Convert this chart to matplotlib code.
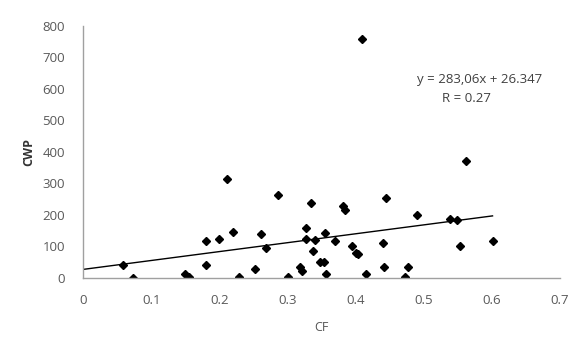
import matplotlib
matplotlib.use("Agg")
import matplotlib.pyplot as plt
import numpy as np

cf = [0.059, 0.073, 0.150, 0.155, 0.180, 0.181, 0.199, 0.212, 0.220, 0.229,
      0.253, 0.261, 0.269, 0.286, 0.301, 0.318, 0.321, 0.327, 0.327, 0.335,
      0.338, 0.340, 0.348, 0.354, 0.355, 0.357, 0.370, 0.381, 0.385, 0.395,
      0.400, 0.403, 0.410, 0.416, 0.440, 0.442, 0.444, 0.472, 0.477, 0.490,
      0.538, 0.549, 0.553, 0.562, 0.601]
cwp = [40, 0, 11, 3, 117, 40, 122, 313, 145, 3,
       28, 138, 95, 264, 3, 35, 21, 157, 124, 236,
       85, 121, 49, 49, 141, 11, 117, 229, 215, 101,
       77, 74, 760, 11, 109, 35, 253, 3, 35, 199,
       186, 183, 101, 371, 117]
slope = 283.06
intercept = 26.347
x_ticks = [0, 0.1, 0.2, 0.3, 0.4, 0.5, 0.6, 0.7]
x_tick_labels = ["0", "0.1", "0.2", "0.3", "0.4", "0.5", "0.6", "0.7"]
y_ticks = [0, 100, 200, 300, 400, 500, 600, 700, 800]
eq_text = "y = 283,06x + 26.347"
r_text = "R = 0.27"

plt.rcParams['font.family'] = ['Open Sans', 'DejaVu Sans']

fig = plt.figure(figsize=(5.77, 3.47), dpi=100)
ax = fig.add_axes([83/577, 1 - 277.7/347, (560-83)/577, (277.7-26)/347])

ax.plot(cf, cwp, linestyle='none', marker='D', markersize=3.6, color='black')
xl = np.array([0, max(cf)])
ax.plot(xl, slope * xl + intercept, color='black', linewidth=1)

ax.set_xlim(0, 0.7)
ax.set_ylim(0, 800)
ax.set_xticks(x_ticks)
ax.set_xticklabels(x_tick_labels)
ax.set_yticks(y_ticks)
for s in ['top', 'right']:
    ax.spines[s].set_visible(False)
for s in ['left', 'bottom']:
    ax.spines[s].set_color('#a0a0a0')
    ax.spines[s].set_linewidth(1)
ax.tick_params(axis='both', length=0, labelsize=9.5, labelcolor='#595959')
ax.tick_params(axis='y', pad=13)
ax.tick_params(axis='x', pad=12)

ax.set_ylabel("CWP", fontsize=9, fontweight='bold', color='#333333', labelpad=5)
ax.set_xlabel("CF", fontsize=9, color='#555555', labelpad=10)

fig.text(480/577, 1 - 80/347, eq_text, fontsize=9.5, color='#404040', ha='center', va='center')
fig.text(466/577, 1 - 98/347, r_text, fontsize=9.5, color='#404040', ha='center', va='center')

fig.savefig("out.png", dpi=100)
